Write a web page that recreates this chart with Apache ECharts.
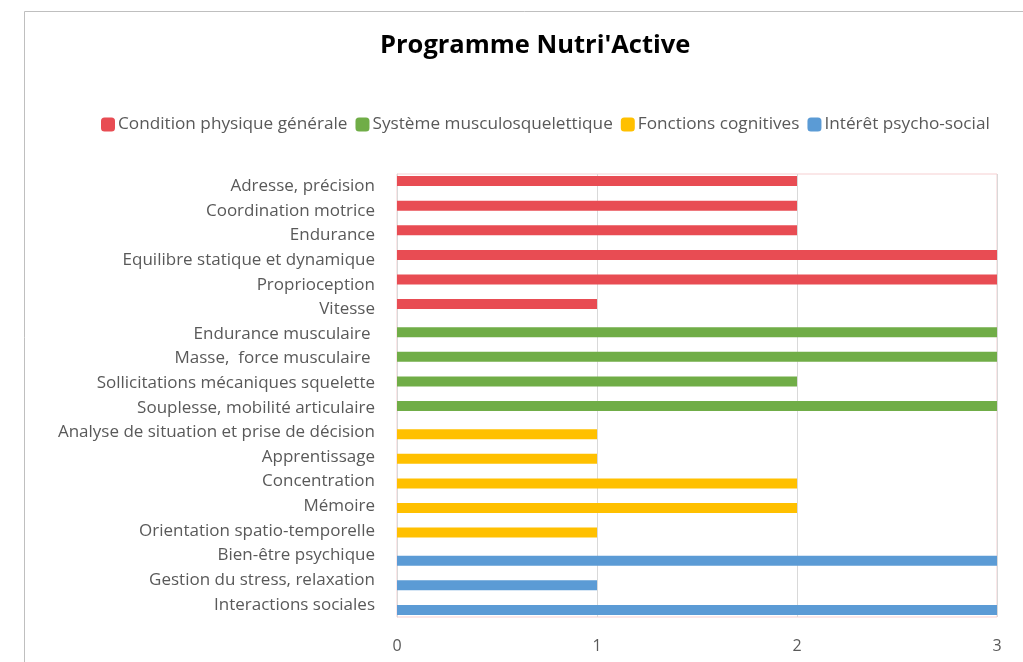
<!DOCTYPE html>
<html>
<head>
<meta charset="utf-8">
<script src="https://cdn.jsdelivr.net/npm/echarts@6/dist/echarts.min.js"></script>
<style>html,body{margin:0;padding:0;background:#fff}#c{width:1023px;height:662px}</style>
</head>
<body>
<div id="c"></div>
<script>
const categories = [
  "Adresse, précision", "Coordination motrice", "Endurance", "Equilibre statique et dynamique",
  "Proprioception", "Vitesse", "Endurance musculaire ", "Masse,  force musculaire ",
  "Sollicitations mécaniques squelette", "Souplesse, mobilité articulaire",
  "Analyse de situation et prise de décision", "Apprentissage", "Concentration", "Mémoire",
  "Orientation spatio-temporelle", "Bien-être psychique", "Gestion du stress, relaxation",
  "Interactions sociales"
];
const seriesNames = ["Condition physique générale", "Système musculosquelettique", "Fonctions cognitives", "Intérêt psycho-social"];
const conditionPhysique = [2, 2, 2, 3, 3, 1, null, null, null, null, null, null, null, null, null, null, null, null];
const systemeMusculo   = [null, null, null, null, null, null, 3, 3, 2, 3, null, null, null, null, null, null, null, null];
const fonctionsCognitives = [null, null, null, null, null, null, null, null, null, null, 1, 1, 2, 2, 1, null, null, null];
const interetPsychoSocial = [null, null, null, null, null, null, null, null, null, null, null, null, null, null, null, 3, 1, 3];
const xTicks = [0, 1, 2, 3];

const colors = ["#E84C53", "#70AD47", "#FFC000", "#5B9BD5"];
const seriesData = [conditionPhysique, systemeMusculo, fonctionsCognitives, interetPsychoSocial];
const FONT = "'Open Sans', sans-serif";

const chart = echarts.init(document.getElementById('c'));
chart.setOption({
  animation: false,
  color: colors,
  graphic: [{
    type: 'rect', left: 22, top: 9, silent: true,
    shape: { width: 1100, height: 700 },
    style: { fill: 'none', stroke: '#BFBFBF', lineWidth: 1 }
  }],
  title: {
    text: "Programme Nutri'Active",
    left: 375, top: 28,
    textStyle: { fontFamily: FONT, fontSize: 25.5, fontWeight: 'bold', color: '#000' }
  },
  legend: {
    top: 111, left: 96,
    itemWidth: 14, itemHeight: 14, itemGap: 8,
    icon: 'roundRect',
    textStyle: { fontFamily: FONT, fontSize: 17.2, color: '#595959', padding: [0, 0, 0, -2] },
    data: seriesNames
  },
  grid: {
    left: 397, right: 26, top: 174, bottom: 45,
    show: true, borderColor: '#F6CFD1', borderWidth: 1
  },
  xAxis: {
    type: 'value', min: 0, max: 3, interval: 1,
    axisLine: { show: false }, axisTick: { show: false },
    splitLine: { lineStyle: { color: '#D9D9D9' } },
    axisLabel: { fontFamily: FONT, fontSize: 16, color: '#595959', margin: 21,
      formatter: v => xTicks.includes(v) ? String(v) : '' }
  },
  yAxis: {
    type: 'category', data: categories, inverse: true,
    axisLine: { show: true, lineStyle: { color: '#D9D9D9' } },
    axisTick: { show: false },
    axisLabel: { fontFamily: FONT, fontSize: 17, color: '#595959', margin: 22 }
  },
  series: seriesNames.map((n, i) => ({
    name: n, type: 'bar', data: seriesData[i],
    barWidth: 10, barGap: '-65%',
    itemStyle: { color: colors[i] }
  }))
});
</script>
</body>
</html>
